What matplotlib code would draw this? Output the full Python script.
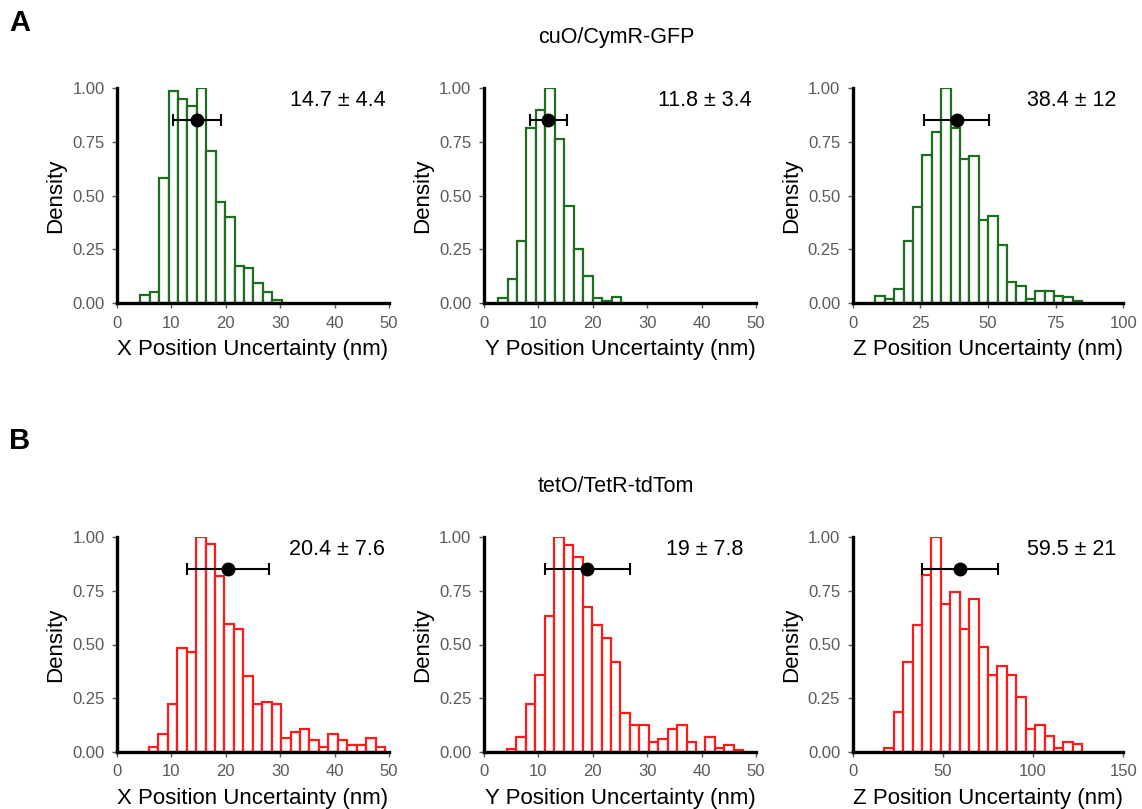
import numpy as np
import matplotlib
matplotlib.use("Agg")
import matplotlib.pyplot as plt

plt.rcParams['font.family'] = ['Liberation Sans', 'DejaVu Sans']

# ---- data ----
row_titles = ["cuO/CymR-GFP", "tetO/TetR-tdTom"]
row_letters = ["A", "B"]
axis_names = ["X", "Y", "Z"]
row_colors = ["#1f6e1f", "#ff1a1a"]

xlims = [[50, 50, 100], [50, 50, 150]]
xticks = [[[0, 10, 20, 30, 40, 50], [0, 10, 20, 30, 40, 50], [0, 25, 50, 75, 100]],
          [[0, 10, 20, 30, 40, 50], [0, 10, 20, 30, 40, 50], [0, 50, 100, 150]]]

# bin start and bin width per panel
bin_start = [[4.29, 2.58, 8.37], [5.88, 4.23, 17.55]]
bin_width = [[1.732, 1.74, 3.476], [1.735, 1.737, 5.226]]

cuo_x = [0.039, 0.05, 0.58, 0.985, 0.95, 0.915, 1.0, 0.705, 0.47, 0.40, 0.17, 0.163, 0.093, 0.05, 0.012]
cuo_y = [0.023, 0.113, 0.288, 0.814, 0.9, 1.0, 0.763, 0.453, 0.251, 0.124, 0.023, 0.011, 0.028]
cuo_z = [0.034, 0.019, 0.065, 0.288, 0.445, 0.69, 0.794, 1.0, 0.814, 0.668, 0.684, 0.388, 0.406,
         0.268, 0.099, 0.081, 0.02, 0.057, 0.057, 0.034, 0.028, 0.008]
tet_x = [0.023, 0.084, 0.223, 0.484, 0.464, 1.0, 0.967, 0.82, 0.595, 0.57, 0.355, 0.223, 0.231,
         0.225, 0.065, 0.095, 0.109, 0.057, 0.023, 0.082, 0.057, 0.031, 0.031, 0.064, 0.022]
tet_y = [0.016, 0.07, 0.223, 0.36, 0.631, 1.0, 0.964, 0.907, 0.676, 0.592, 0.529, 0.417, 0.183,
         0.127, 0.127, 0.045, 0.062, 0.107, 0.127, 0.045, 0.0, 0.07, 0.017, 0.034, 0.008]
tet_z = [0.017, 0.188, 0.419, 0.591, 0.822, 1.0, 0.69, 0.743, 0.572, 0.71, 0.488, 0.358, 0.4,
         0.358, 0.257, 0.107, 0.127, 0.076, 0.017, 0.048, 0.037]
heights = [[cuo_x, cuo_y, cuo_z], [tet_x, tet_y, tet_z]]

means = [[14.7, 11.8, 38.4], [20.4, 19.0, 59.5]]
sds = [[4.4, 3.4, 12.0], [7.6, 7.8, 21.0]]
labels = [["14.7 ± 4.4", "11.8 ± 3.4", "38.4 ± 12"], ["20.4 ± 7.6", "19 ± 7.8", "59.5 ± 21"]]

# ---- figure ----
W, H = 1142, 809
fig = plt.figure(figsize=(W / 100, H / 100), dpi=100)

lefts = [117, 484, 852.7]
widths = [272, 272, 270.6]
tops = [88, 537]
ax_h = 215

gray = "#5a5a5a"
for r in range(2):
    for c in range(3):
        ax = fig.add_axes([lefts[c] / W, 1 - (tops[r] + ax_h) / H, widths[c] / W, ax_h / H])
        h = np.array(heights[r][c])
        edges = bin_start[r][c] + bin_width[r][c] * np.arange(len(h) + 1)
        ax.bar(edges[:-1], h, width=bin_width[r][c], align='edge', facecolor='white',
               edgecolor=row_colors[r], linewidth=1.6, zorder=2)
        ax.errorbar([means[r][c]], [0.85], xerr=[sds[r][c]], fmt='o', color='black',
                    markersize=9, capsize=4, elinewidth=1.5, capthick=1.5, zorder=4)
        ax.text(0.81, 0.94, labels[r][c], transform=ax.transAxes, ha='center', va='center',
                fontsize=15.5, color='black')
        ax.set_xlim(0, xlims[r][c])
        ax.set_ylim(0, 1.0)
        ax.set_xticks(xticks[r][c])
        ax.set_yticks([0, 0.25, 0.5, 0.75, 1.0])
        ax.set_yticklabels(["0.00", "0.25", "0.50", "0.75", "1.00"])
        for s in ['top', 'right']:
            ax.spines[s].set_visible(False)
        for s in ['left', 'bottom']:
            ax.spines[s].set_linewidth(2.4)
            ax.spines[s].set_color('black')
            ax.spines[s].set_zorder(5)
        ax.tick_params(axis='both', colors=gray, labelsize=12, length=3.5, width=1.0, pad=5.5)
        ax.set_xlabel(f"{axis_names[c]} Position Uncertainty (nm)", fontsize=16, labelpad=6)
        ax.set_ylabel("Density", fontsize=16, labelpad=4)
        ax.patch.set_alpha(0)

    fig.text(616 / W, 1 - (37 if r == 0 else 487) / H, row_titles[r], ha='center', va='center',
             fontsize=15.5)
    fig.text(9 / W, 1 - (23 if r == 0 else 441) / H, row_letters[r], ha='left', va='center',
             fontsize=21, fontweight='bold')

fig.savefig("out.png", dpi=100)
